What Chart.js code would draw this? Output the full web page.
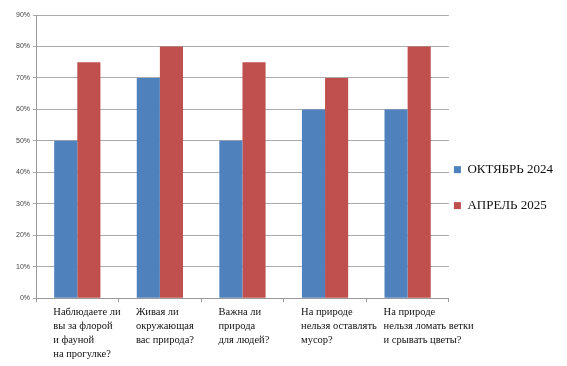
<!DOCTYPE html>
<html><head><meta charset="utf-8">
<script src="https://cdn.jsdelivr.net/npm/chart.js@4/dist/chart.umd.min.js"></script>
<style>html,body{margin:0;padding:0;background:#fff}#wrap{width:567px;height:366px}</style>
</head><body><div id="wrap"><canvas id="c"></canvas></div>
<script>
const categories = [
  ["Наблюдаете ли", "вы за флорой", "и фауной", "на прогулке?"],
  ["Живая ли", "окружающая", "вас природа?"],
  ["Важна ли", "природа", "для людей?"],
  ["На природе", "нельзя оставлять", "мусор?"],
  ["На природе", "нельзя ломать ветки", "и срывать цветы?"]
];
const seriesNames = ["ОКТЯБРЬ 2024", "АПРЕЛЬ 2025"];
const october2024 = [50, 70, 50, 60, 60];
const april2025 = [75, 80, 75, 70, 80];
const yTicks = [0, 10, 20, 30, 40, 50, 60, 70, 80, 90];
const colors = ['#4F81BD', '#C0504D'];

new Chart(document.getElementById('c'), {
  type: 'bar',
  data: {
    labels: categories,
    datasets: [
      {label: seriesNames[0], data: october2024, backgroundColor: colors[0]},
      {label: seriesNames[1], data: april2025, backgroundColor: colors[1]}
    ]
  },
  options: {
    responsive: true, maintainAspectRatio: false, animation: false,
    layout: {padding: {top: 15, left: 13, right: 4, bottom: 2}},
    datasets: {bar: {categoryPercentage: 0.56, barPercentage: 1}},
    plugins: {
      tooltip: {enabled: false},
      legend: {
        position: 'right',
        title: {display: true, text: '', font: {size: 1}, padding: {top: 0, bottom: 13}},
        labels: {
          font: {family: 'Liberation Serif', size: 13, lineHeight: 2.38},
          color: '#111',
          boxWidth: 7, boxHeight: 7,
          padding: 5,
          generateLabels: (chart) => chart.data.datasets.map((ds, i) => ({
            text: [ds.label], fillStyle: ds.backgroundColor, strokeStyle: ds.backgroundColor,
            lineWidth: 0, hidden: false, datasetIndex: i, fontColor: '#111'
          }))
        }
      }
    },
    scales: {
      x: {
        grid: {display: true, drawOnChartArea: false, tickLength: 4, color: '#999'},
        border: {color: '#999'},
        ticks: {
          font: {family: 'Liberation Serif', size: 10.5, lineHeight: 1.33},
          color: '#111', align: 'start', labelOffset: -24, maxRotation: 0, minRotation: 0,
          autoSkip: false, padding: 3
        }
      },
      y: {
        min: 0, max: 90,
        afterBuildTicks: (s) => { s.ticks = yTicks.map(v => ({value: v})); },
        grid: {color: '#aaa', tickLength: 3},
        border: {color: '#999'},
        ticks: {
          font: {family: 'Liberation Sans', size: 7},
          color: '#444', padding: 3,
          callback: (v) => v + '%'
        }
      }
    }
  }
});
</script></body></html>
